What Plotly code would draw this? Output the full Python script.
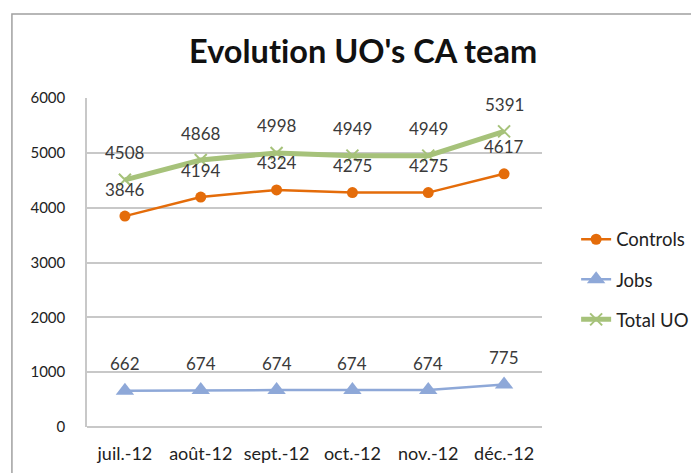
import plotly.graph_objects as go

months = ["juil.-12", "août-12", "sept.-12", "oct.-12", "nov.-12", "déc.-12"]
controls = [3846, 4194, 4324, 4275, 4275, 4617]
jobs = [662, 674, 674, 674, 674, 775]
total_uo = [4508, 4868, 4998, 4949, 4949, 5391]

FONT = "Lato, Open Sans, sans-serif"
C_CTRL = "#E46C0A"
C_JOBS = "#8EA8D8"
C_TOT = "#A6C27A"

fig = go.Figure()
fig.add_trace(go.Scatter(x=months, y=controls, name="Controls", mode="lines+markers",
                         legendgroup="c",
                         line=dict(color=C_CTRL, width=2.5),
                         marker=dict(symbol="circle", size=11, color=C_CTRL)))
fig.add_trace(go.Scatter(x=months, y=jobs, name="Jobs", mode="lines+markers",
                         legendgroup="j",
                         line=dict(color=C_JOBS, width=2.5),
                         marker=dict(symbol="triangle-up", size=16, color=C_JOBS)))
fig.add_trace(go.Scatter(x=months, y=total_uo, name="Total UO", mode="lines+markers",
                         legendgroup="t",
                         line=dict(color=C_TOT, width=5),
                         marker=dict(symbol="x-thin", size=12, line=dict(color=C_TOT, width=2), color=C_TOT)))

annotations = []
for series in (controls, jobs, total_uo):
    for m, v in zip(months, series):
        annotations.append(dict(x=m, y=v, text=str(v), showarrow=False, yshift=27,
                                font=dict(family=FONT, size=17, color="#3A3A3A")))

fig.update_layout(
    width=699, height=473,
    margin=dict(l=79, r=165, t=90, b=54),
    paper_bgcolor="white", plot_bgcolor="white",
    font=dict(family=FONT, size=16, color="#222222"),
    title=dict(text="<b>Evolut\u200cion UO's CA team</b>", x=0.508, xanchor="center",
               xref="container", yref="container",
               y=0.907, yanchor="middle",
               font=dict(family=FONT, size=32.5, color="#111111")),
    showlegend=True,
    legend=dict(x=1.075, y=0.627, xanchor="left", yanchor="top",
                font=dict(family=FONT, size=18.5, color="#222222"),
                tracegroupgap=13, bgcolor="rgba(0,0,0,0)"),
    annotations=annotations,
    shapes=[dict(type="rect", xref="paper", yref="paper", x0=-0.165, x1=1.5, y0=-0.3, y1=1.255,
                 line=dict(color="#A0A0A0", width=1.5), fillcolor="rgba(0,0,0,0)", layer="below")],
)
fig.update_xaxes(showgrid=False, showline=False, ticks="", tickfont=dict(size=18),
                 ticklabelstandoff=14, range=[-0.5, 5.5], automargin=False)
fig.update_yaxes(range=[0, 6000], dtick=1000, showgrid=True, gridcolor="#C8C8C8", gridwidth=1.5,
                 showline=True, linecolor="#C8C8C8", linewidth=1.5, zeroline=True,
                 zerolinecolor="#C8C8C8", zerolinewidth=1.5, ticks="", ticklabelstandoff=17,
                 tickfont=dict(size=15), automargin=False)
fig.write_html("out.html")
